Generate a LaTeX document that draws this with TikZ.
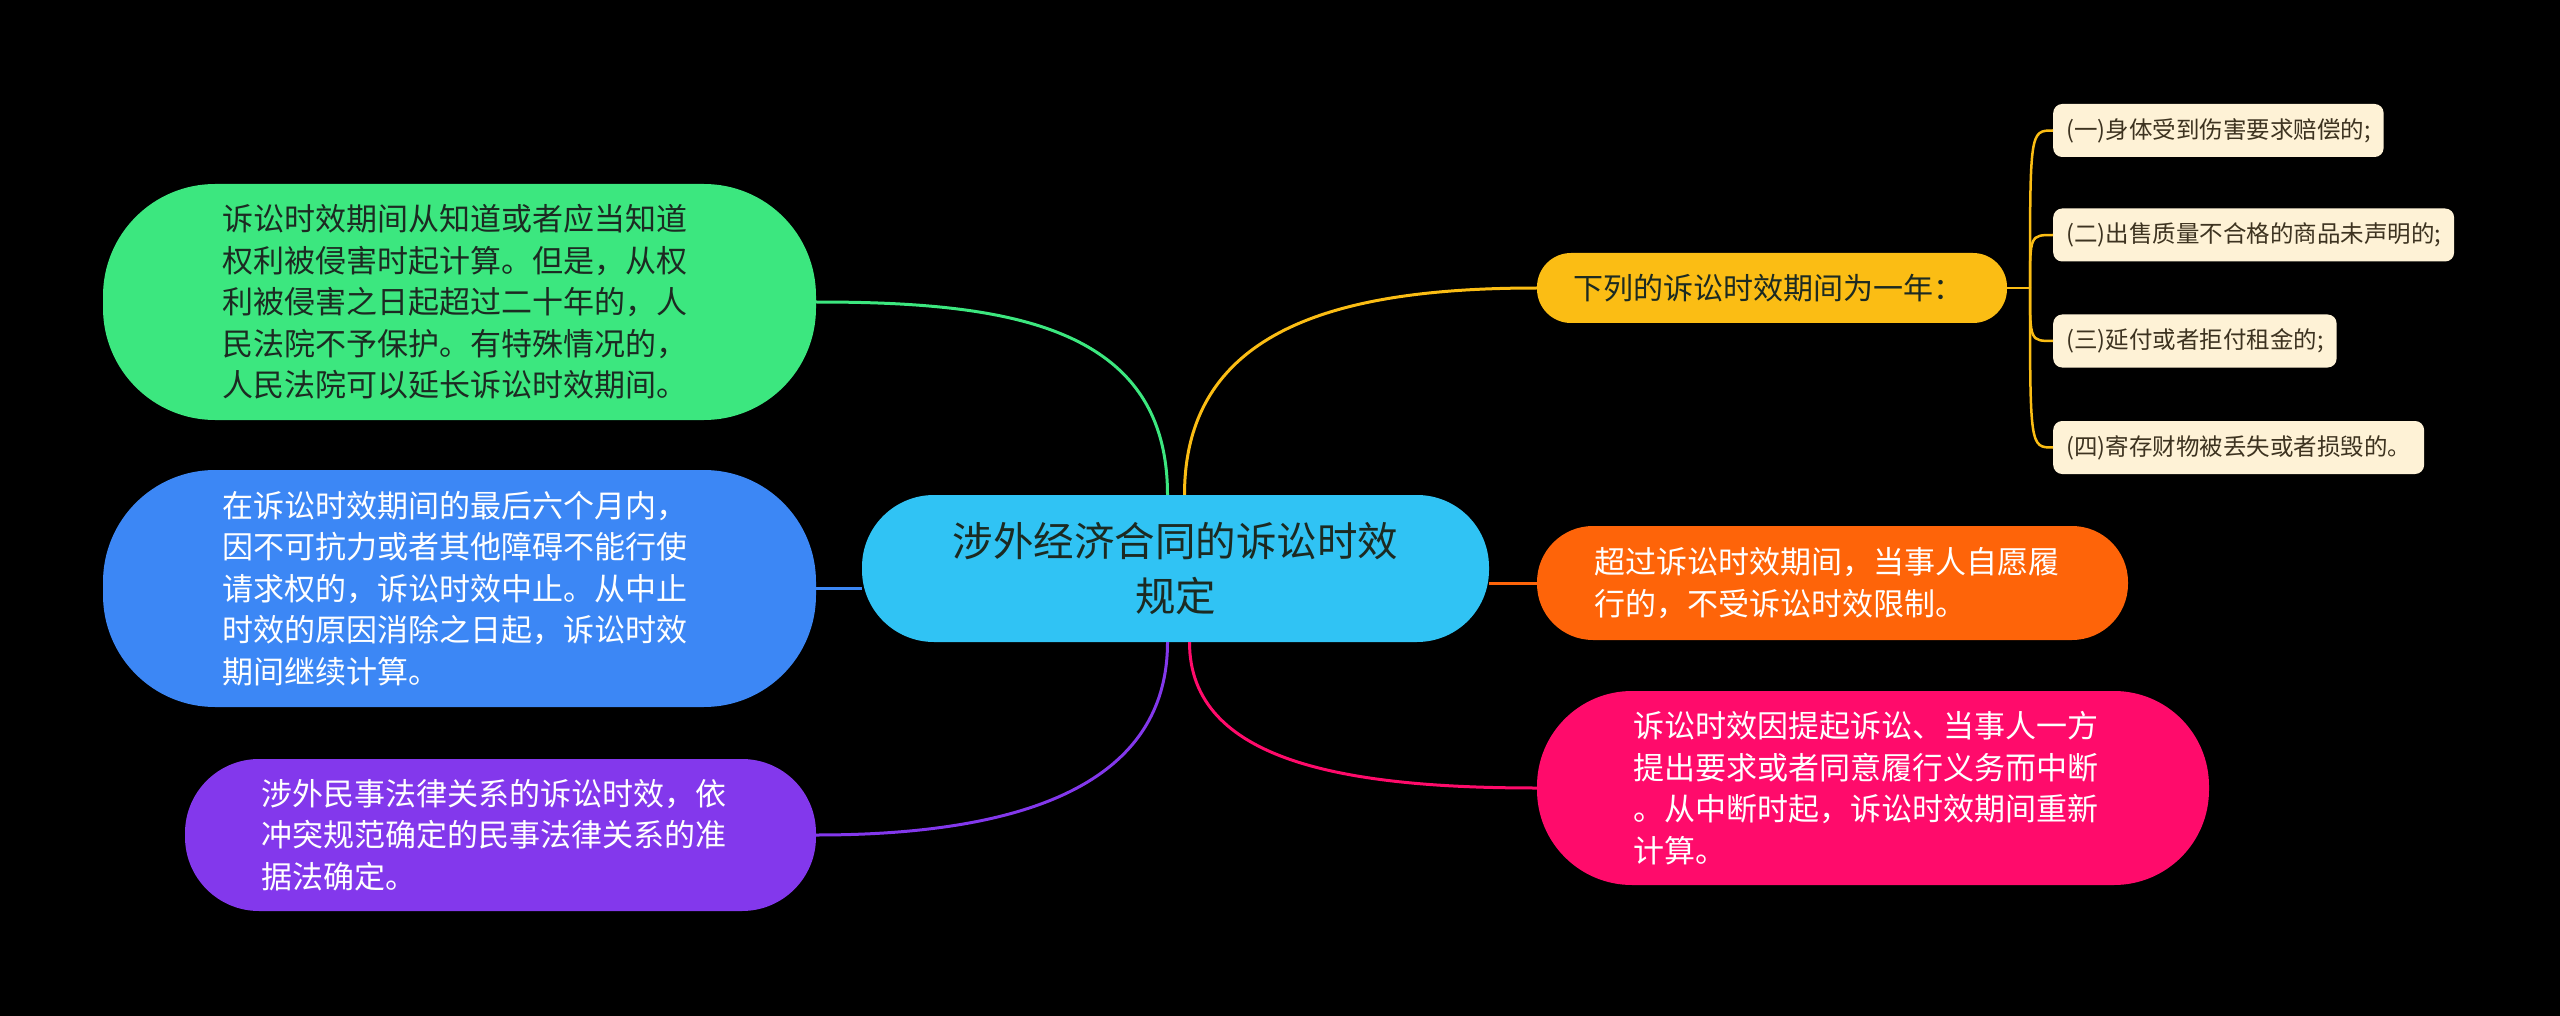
\documentclass[tikz,border=0pt]{standalone}
\usepackage{fontspec}
\setmainfont{Noto Sans CJK SC}
\definecolor{cgreen}{HTML}{3CE77F}
\definecolor{cblue}{HTML}{3C87F5}
\definecolor{cpurple}{HTML}{8338EC}
\definecolor{croot}{HTML}{30C3F4}
\definecolor{cyellow}{HTML}{FBBD14}
\definecolor{corange}{HTML}{FE6409}
\definecolor{cpink}{HTML}{FF0B6B}
\definecolor{ccream}{HTML}{FEF2D6}
\definecolor{tdark}{HTML}{1C2A22}
\definecolor{tbrown}{HTML}{3D3320}
\tikzset{
  bub/.style={inner ysep=0pt, align=left, font=\fontsize{31pt}{41.5pt}\selectfont},
  leaf/.style={inner xsep=13pt, inner ysep=0pt, minimum height=53pt, align=left, rounded corners=9pt,
    fill=ccream, text=tbrown, font=\fontsize{23.5pt}{28pt}\selectfont, anchor=west},
  link/.style={line width=3pt},
}
\begin{document}
\begin{tikzpicture}[x=1pt,y=-1pt]
\fill[black] (0,0) rectangle (2560,1016);
\useasboundingbox (0,0) rectangle (2560,1016);

% root
\node[inner sep=0pt, align=center, fill=croot, text=tdark, rounded corners=72pt,
  minimum width=627pt, minimum height=147pt, font=\fontsize{40.5pt}{55pt}\selectfont]
  (root) at (1175.5,568.5) {涉外经济合同的诉讼时效\\规定};

% left side
\node[bub, fill=cgreen, text=tdark, rounded corners=112pt, inner xsep=119pt, text width=475pt, minimum height=236pt]
  (green) at (459.5,302) {诉讼时效期间从知道或者应当知道\\权利被侵害时起计算。但是，从权\\利被侵害之日起超过二十年的，人\\民法院不予保护。有特殊情况的，\\人民法院可以延长诉讼时效期间。};
\node[bub, fill=cblue, text=white, rounded corners=112pt, inner xsep=119pt, text width=475pt, minimum height=237pt]
  (blue) at (459.5,588.5) {在诉讼时效期间的最后六个月内，\\因不可抗力或者其他障碍不能行使\\请求权的，诉讼时效中止。从中止\\时效的原因消除之日起，诉讼时效\\期间继续计算。};
\node[bub, fill=cpurple, text=white, rounded corners=74pt, inner xsep=76pt, text width=479pt, minimum height=152pt]
  (purple) at (500.5,835) {涉外民事法律关系的诉讼时效，依\\冲突规范确定的民事法律关系的准\\据法确定。};

% right side
\node[bub, fill=cyellow, text=tdark, rounded corners=34pt, inner xsep=36pt, text width=398pt, minimum height=70pt,
  font=\fontsize{30pt}{40pt}\selectfont]
  (yellow) at (1772,288) {下列的诉讼时效期间为一年：};
\node[bub, fill=corange, text=white, rounded corners=56pt, inner xsep=57pt, text width=477pt, minimum height=114pt]
  (orange) at (1832.5,583) {超过诉讼时效期间，当事人自愿履\\行的，不受诉讼时效限制。};
\node[bub, fill=cpink, text=white, rounded corners=95pt, inner xsep=96pt, text width=480pt, minimum height=194pt]
  (pink) at (1873,788) {诉讼时效因提起诉讼、当事人一方\\提出要求或者同意履行义务而中断\\。从中断时起，诉讼时效期间重新\\计算。};

% leaves
\node[leaf] (c1) at (2053,130.5) {(一)身体受到伤害要求赔偿的;};
\node[leaf] (c2) at (2053,235) {(二)出售质量不合格的商品未声明的;};
\node[leaf] (c3) at (2053,341) {(三)延付或者拒付租金的;};
\node[leaf] (c4) at (2053,447.5) {(四)寄存财物被丢失或者损毁的。};

% connectors
\draw[link, cgreen] ([xshift=-8pt]root.north) .. controls +(0,-170) and +(190,0) .. (green.east);
\draw[link, cblue] (blue.east -| root.west) -- (blue.east);
\draw[link, cpurple] ([xshift=-8pt]root.south) .. controls +(0,150) and +(190,0) .. (purple.east);
\draw[link, cyellow] ([xshift=9pt]root.north) .. controls +(0,-170) and +(-190,0) .. (yellow.west);
\draw[link, corange] (orange.west -| root.east) -- (orange.west);
\draw[link, cpink] ([xshift=14pt]root.south) .. controls +(0,120) and +(-190,0) .. (pink.west);

\coordinate (br) at (2030,288);
\draw[link, cyellow, line width=2.5pt] (yellow.east) -- (br);
\foreach \c in {c1,c2,c3,c4}{
  \draw[cyellow, line width=2.5pt] (br) .. controls (br |- \c.west) and (br |- \c.west) .. (\c.west);
}
\end{tikzpicture}
\end{document}
